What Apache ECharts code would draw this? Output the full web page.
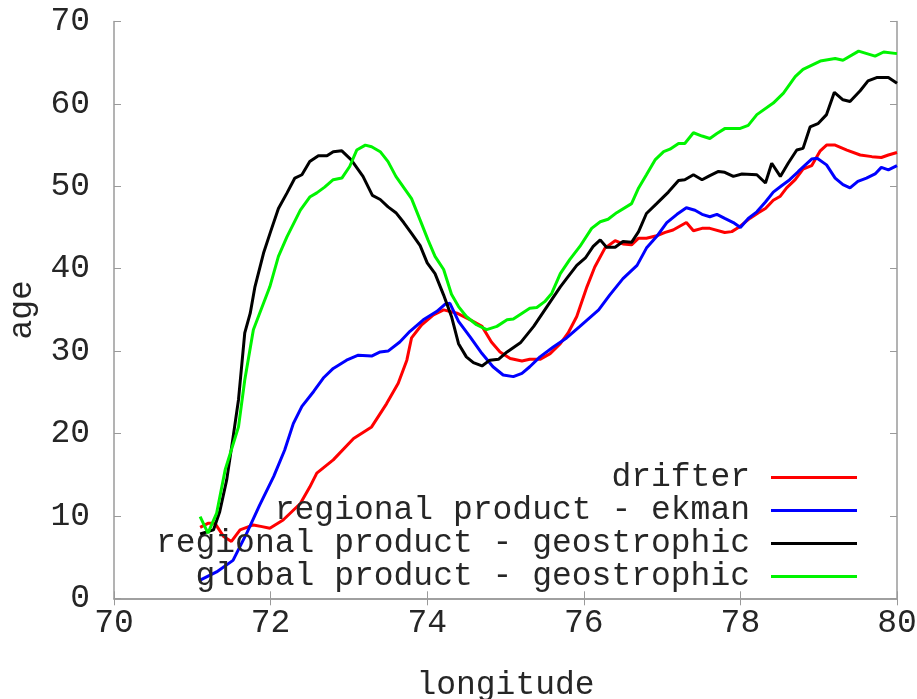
<!DOCTYPE html>
<html>
<head>
<meta charset="utf-8">
<script src="https://cdn.jsdelivr.net/npm/echarts@6/dist/echarts.min.js"></script>
<style>
  html, body { margin: 0; padding: 0; background: #fff; }
  #chart { width: 917px; height: 699px; }
</style>
</head>
<body>
<div id="chart"></div>
<script>
// Water age along the transect, by longitude: [longitude, age]
const drifter = [
  [71.10, 8.6], [71.20, 9.1], [71.29, 9.1], [71.40, 7.5], [71.50, 6.9], [71.61, 8.3],
  [71.78, 8.9], [71.89, 8.7], [71.99, 8.5], [72.16, 9.5], [72.38, 11.5], [72.50, 13.5],
  [72.59, 15.2], [72.80, 16.8], [73.06, 19.4], [73.29, 20.8], [73.48, 23.6], [73.63, 26.1],
  [73.74, 28.9], [73.80, 31.6], [73.93, 33.2], [74.08, 34.4], [74.21, 35.0], [74.38, 34.6],
  [74.55, 33.8], [74.70, 33.0], [74.82, 31.1], [74.93, 29.9], [75.06, 29.1], [75.21, 28.8],
  [75.31, 29.0], [75.44, 29.0], [75.57, 29.7], [75.70, 30.9], [75.80, 32.2], [75.91, 34.2],
  [76.04, 37.8], [76.14, 40.2], [76.27, 42.5], [76.40, 43.4], [76.50, 43.0], [76.61, 42.9],
  [76.70, 43.7], [76.80, 43.7], [76.93, 44.0], [77.04, 44.4], [77.14, 44.7], [77.31, 45.6],
  [77.40, 44.6], [77.51, 44.9], [77.61, 44.9], [77.80, 44.4], [77.89, 44.5], [77.99, 45.1],
  [78.12, 46.1], [78.23, 46.8], [78.32, 47.3], [78.42, 48.3], [78.51, 48.8], [78.59, 49.8],
  [78.70, 50.8], [78.80, 52.1], [78.91, 52.5], [79.02, 54.3], [79.10, 55.0], [79.21, 55.0],
  [79.36, 54.4], [79.53, 53.8], [79.68, 53.6], [79.80, 53.5], [79.89, 53.8], [80.00, 54.1]
];

const regionalEkman = [
  [71.10, 2.2], [71.31, 3.2], [71.52, 4.6], [71.70, 8.0], [71.86, 11.3], [72.04, 14.8],
  [72.18, 18.0], [72.29, 21.2], [72.40, 23.3], [72.55, 25.1], [72.68, 26.8], [72.80, 27.9],
  [72.97, 28.9], [73.12, 29.5], [73.29, 29.4], [73.40, 29.9], [73.50, 30.0], [73.65, 31.1],
  [73.78, 32.4], [73.95, 33.8], [74.12, 34.8], [74.23, 35.7], [74.29, 35.8], [74.40, 33.6],
  [74.55, 31.7], [74.70, 29.7], [74.84, 28.1], [74.97, 27.1], [75.10, 26.9], [75.21, 27.3],
  [75.31, 28.1], [75.44, 29.3], [75.61, 30.5], [75.78, 31.6], [75.95, 33.0], [76.19, 35.0],
  [76.33, 36.8], [76.50, 38.8], [76.68, 40.4], [76.80, 42.5], [76.93, 43.9], [77.06, 45.6],
  [77.19, 46.6], [77.31, 47.4], [77.42, 47.1], [77.51, 46.6], [77.61, 46.3], [77.70, 46.6],
  [77.80, 46.1], [77.91, 45.6], [78.00, 45.0], [78.10, 46.1], [78.21, 46.9], [78.32, 48.1],
  [78.42, 49.3], [78.53, 50.1], [78.63, 50.8], [78.74, 51.8], [78.83, 52.6], [78.91, 53.3],
  [78.98, 53.4], [79.10, 52.6], [79.21, 51.0], [79.31, 50.2], [79.40, 49.8], [79.50, 50.6],
  [79.61, 51.0], [79.72, 51.5], [79.80, 52.3], [79.89, 52.0], [80.00, 52.5]
];

const regionalGeostrophic = [
  [71.10, 7.8], [71.27, 8.3], [71.35, 10.5], [71.44, 14.4], [71.52, 19.5], [71.59, 24.1],
  [71.67, 32.2], [71.74, 34.6], [71.80, 37.8], [71.91, 41.9], [72.00, 44.5], [72.10, 47.3],
  [72.21, 49.2], [72.31, 51.0], [72.40, 51.4], [72.50, 53.0], [72.61, 53.7], [72.72, 53.7],
  [72.80, 54.2], [72.91, 54.3], [73.03, 53.2], [73.18, 51.2], [73.30, 48.9], [73.40, 48.4],
  [73.50, 47.5], [73.60, 46.8], [73.70, 45.6], [73.80, 44.3], [73.91, 42.8], [74.00, 40.7],
  [74.10, 39.4], [74.21, 36.8], [74.31, 34.2], [74.40, 30.9], [74.50, 29.3], [74.59, 28.6],
  [74.70, 28.2], [74.80, 28.9], [74.91, 29.0], [75.02, 29.9], [75.19, 31.0], [75.36, 33.0],
  [75.53, 35.4], [75.70, 37.8], [75.78, 38.8], [75.91, 40.4], [76.02, 41.3], [76.12, 42.7],
  [76.21, 43.5], [76.29, 42.6], [76.40, 42.6], [76.50, 43.3], [76.61, 43.2], [76.70, 44.5],
  [76.80, 46.7], [76.93, 47.9], [77.08, 49.3], [77.21, 50.7], [77.29, 50.8], [77.40, 51.4],
  [77.51, 50.8], [77.61, 51.3], [77.72, 51.8], [77.80, 51.7], [77.91, 51.2], [78.02, 51.5],
  [78.21, 51.4], [78.32, 50.4], [78.40, 52.8], [78.51, 51.2], [78.61, 52.8], [78.72, 54.4],
  [78.80, 54.6], [78.89, 57.2], [78.99, 57.6], [79.10, 58.7], [79.20, 61.4], [79.31, 60.5],
  [79.40, 60.3], [79.53, 61.6], [79.63, 62.8], [79.74, 63.2], [79.89, 63.2], [80.00, 62.5]
];

const globalGeostrophic = [
  [71.10, 9.9], [71.20, 7.9], [71.31, 10.3], [71.42, 15.6], [71.59, 20.8], [71.67, 26.5],
  [71.78, 32.6], [71.99, 37.8], [72.10, 41.5], [72.21, 43.9], [72.38, 47.1], [72.50, 48.7],
  [72.59, 49.2], [72.69, 49.9], [72.80, 50.8], [72.91, 51.0], [73.01, 52.4], [73.10, 54.4],
  [73.21, 55.0], [73.29, 54.8], [73.40, 54.2], [73.50, 53.0], [73.60, 51.2], [73.80, 48.5],
  [73.91, 45.9], [74.01, 43.5], [74.10, 41.5], [74.21, 39.9], [74.31, 36.9], [74.40, 35.4],
  [74.50, 34.2], [74.63, 33.2], [74.76, 32.6], [74.89, 33.0], [75.02, 33.8], [75.10, 33.9],
  [75.31, 35.2], [75.40, 35.3], [75.50, 36.0], [75.59, 37.0], [75.70, 39.4], [75.82, 41.1],
  [75.95, 42.7], [76.10, 44.9], [76.21, 45.7], [76.31, 46.0], [76.42, 46.8], [76.61, 47.9],
  [76.70, 49.8], [76.80, 51.4], [76.91, 53.2], [77.02, 54.2], [77.10, 54.5], [77.21, 55.2],
  [77.29, 55.2], [77.40, 56.5], [77.51, 56.1], [77.61, 55.8], [77.70, 56.4], [77.80, 57.0],
  [77.99, 57.0], [78.10, 57.4], [78.21, 58.7], [78.42, 60.1], [78.55, 61.3], [78.70, 63.3],
  [78.80, 64.2], [79.02, 65.2], [79.21, 65.5], [79.31, 65.3], [79.51, 66.4], [79.72, 65.8],
  [79.83, 66.3], [80.00, 66.1]
];

const seriesNames = [
  'drifter',
  'regional product - ekman',
  'regional product - geostrophic',
  'global product - geostrophic'
];
const seriesData = [drifter, regionalEkman, regionalGeostrophic, globalGeostrophic];
const seriesColors = ['#ff0000', '#0000ff', '#000000', '#00f400'];

const FONT = '"Liberation Mono", "DejaVu Sans Mono", monospace';
const TEXT_COLOR = '#262626';
const FRAME = '#9a9a9a';

// Legend rows: one component per entry so the icons line up on the right
const legendRowCenters = [477, 510, 543, 576];
const legends = seriesNames.map((name, i) => ({
  data: [name],
  orient: 'vertical',
  align: 'right',
  right: 60,
  top: legendRowCenters[i] - 16,
  padding: 0,
  icon: 'rect',
  itemWidth: 86,
  itemHeight: 3,
  selectedMode: false,
  textStyle: {
    fontFamily: FONT,
    fontSize: 33,
    color: TEXT_COLOR,
    lineHeight: 32,
    padding: [0, 16, 0, 0]
  }
}));

const frameAxis = {
  axisLine: { show: true, lineStyle: { color: FRAME, width: 1.5 } },
  axisTick: { show: true, inside: true, length: 7, lineStyle: { color: FRAME, width: 1 } },
  splitLine: { show: false }
};

const chart = echarts.init(document.getElementById('chart'), null, { renderer: 'canvas' });
chart.setOption({
  animation: false,
  backgroundColor: '#ffffff',
  grid: {
    left: 114, right: 20, top: 21.5, bottom: 100.7,
    containLabel: false,
    outerBoundsMode: 'none'
  },
  legend: legends,
  xAxis: [
    Object.assign({}, frameAxis, {
      type: 'value', min: 70, max: 80, interval: 2, position: 'bottom',
      name: 'longitude', nameLocation: 'middle', nameGap: 70,
      nameTextStyle: { fontFamily: FONT, fontSize: 33, color: TEXT_COLOR },
      axisLabel: { fontFamily: FONT, fontSize: 33, color: TEXT_COLOR, margin: 8 }
    }),
    Object.assign({}, frameAxis, {
      type: 'value', min: 70, max: 80, interval: 2, position: 'top',
      axisLabel: { show: false }
    })
  ],
  yAxis: [
    Object.assign({}, frameAxis, {
      type: 'value', min: 0, max: 70, interval: 10, position: 'left',
      name: 'age', nameLocation: 'middle', nameGap: 75, nameRotate: 90,
      nameTextStyle: { fontFamily: FONT, fontSize: 33, color: TEXT_COLOR },
      axisLabel: { fontFamily: FONT, fontSize: 33, color: TEXT_COLOR, margin: 24 }
    }),
    Object.assign({}, frameAxis, {
      type: 'value', min: 0, max: 70, interval: 10, position: 'right',
      axisLabel: { show: false }
    })
  ],
  series: seriesData.map((data, i) => ({
    name: seriesNames[i],
    type: 'line',
    data: data,
    xAxisIndex: 0,
    yAxisIndex: 0,
    showSymbol: false,
    symbol: 'none',
    smooth: false,
    color: seriesColors[i],
    lineStyle: { color: seriesColors[i], width: 3 },
    z: 2 + i
  }))
});
</script>
</body>
</html>
